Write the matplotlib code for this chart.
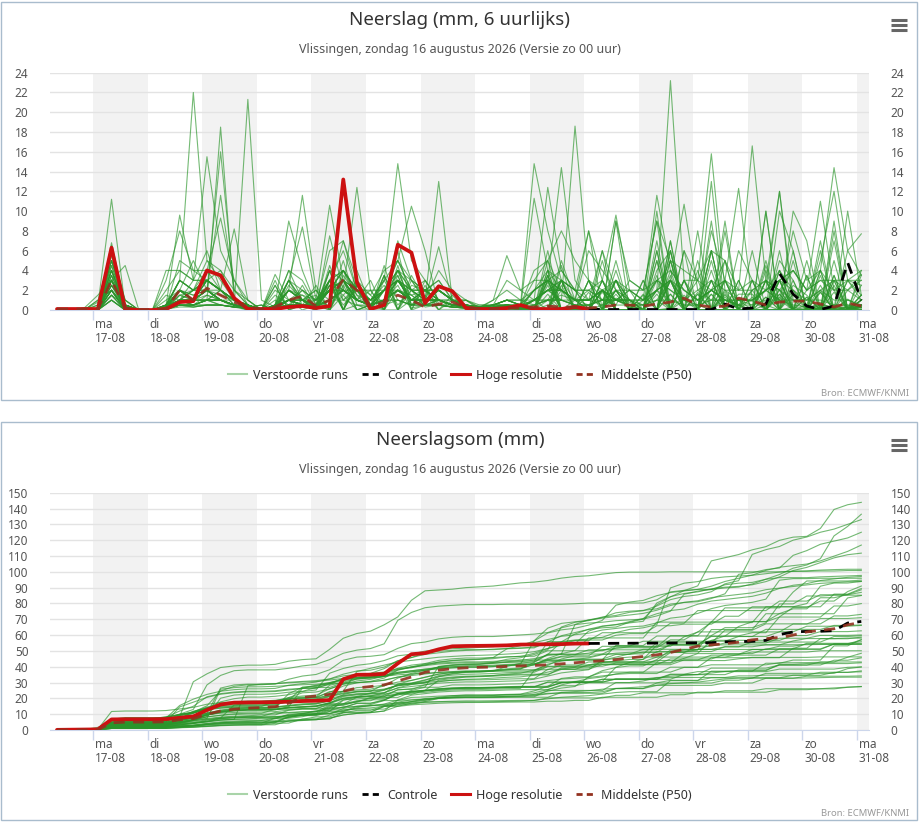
import numpy as np
import matplotlib
matplotlib.use("Agg")
import matplotlib.pyplot as plt
from matplotlib.lines import Line2D
from matplotlib.patches import Rectangle

plt.rcParams['font.family'] = ['Noto Sans', 'DejaVu Sans']

# ---------------- data ----------------
title_top = "Neerslag (mm, 6 uurlijks)"
title_bottom = "Neerslagsom (mm)"
subtitle = "Vlissingen, zondag 16 augustus 2026 (Versie zo 00 uur)"
source = "Bron: ECMWF/KNMI"
legend_labels = ["Verstoorde runs", "Controle", "Hoge resolutie", "Middelste (P50)"]

day_names = ["ma", "di", "wo", "do", "vr", "za", "zo", "ma", "di", "wo", "do", "vr", "za", "zo", "ma"]
day_dates = ["17-08", "18-08", "19-08", "20-08", "21-08", "22-08", "23-08", "24-08",
             "25-08", "26-08", "27-08", "28-08", "29-08", "30-08", "31-08"]

# time of each 6-hourly value, in days after ma 17-08 00:00 (first value 16-08 08:00)
n_steps = 60
step_days = 0.25
first_day = -16 / 24

# 6-hourly precipitation of the perturbed members (mm); "|" separates days
members_raw = [
    "0 0 0|0 4.5 0.5 0|0 0.5 3 22|5 4 1 0.5|0 0.5 2 1|0.5 6 7 3|1.5 4 5 10.5|6 0.5 0.5 1|0.5 0.5 1 1|0.5 1 1.5 1|0.5 1 1 0.3|0 0 0.2 0|0 0 0 0|0 0 0 0.3|0 0.2 0 0.3|0",
    "0 0 0|0 3 1 0|0 2 4 3|15.5 6 3 0.5|0 0 1 1.5|1 3 4 2|1 3 14.8 5|3 1 0.5 0.5|0 0 0.2 0|0 0 0 0.3|0.5 0 0 0|0 2 5 1|0.5 0 1 0.5|2 3 1 0|0 0.5 0.3 0.3|0.3",
    "0 0 0|1 2 0 0|0 0 1.5 2|3 2 1 0.5|0 0.2 1 0.5|0.5 2 4 1|0.5 1 3 2|1 4 2 1|0 0.5 3 2|1 12.4 4 2|2 1 0.5 3|2 9 5 4|3 15.8 2 2|3 2 4 2|0.5 5 12 3|1.5",
    "0 0 0|0 1.5 0.5 0|0 0.3 5 4|4 9.3 3 1|0 0.5 3 2|1 3 6 2|0.5 1 4 3|1 2 1 0.5|0 0 0.5 0.5|0.5 1 3 2|1 0.5 1 0.5|0.5 2 3 10.7|2 1 3 1|0.5 2 3 4|2 4 14.4 6|7.7",
    "0 0 0.2|1.5 3 0 0|0 0.2 2 5|2 1 0.5 0.3|0 0.3 2 1|0.3 2 3 1|0.5 2 5 3|2 1 0.5 0.3|0 0.5 1 0.5|14.8 8 3 1|1 2 1 2|1 3 4 2|1 2 5 2|16.6 3 2 4|2 3 2 3|3",
    "0 0 0|0 5 1 0|0 0.5 1 3|3 2 0.5 0|0 0.5 4 3|0.5 2 3 1|0.5 1 2 1.5|2 3 1 0.5|0.2 1 2 1|2 3 14.4 3|1 2 3 1|0.5 1 3 1|0.5 2 3 12.3|1 2 1 8|3 4 2 2|3.6",
    "0 0 0|0 2.5 0.5 0|0 0.5 3 2|5 3 1 0.5|0 0.5 2 1|0.5 4 3 2|1 2 4 2|1 2 1 0.5|0.3 1 5.5 2|3 5 2 1|2 3 9.6 2|1 3 2 1|1 2 3 2|2 3 2 1|1 2 3 3|4",
    "0 0 0|0.8 6 1 0|0 0 2 1|2 1 0.5 0|0 0.3 1 1|0.3 3 2 1|0.5 2 3 1|2 3 1 1|0.3 0.5 1 0.5|4 5 8 5|3 2 1 1|1 11.6 4 2|1 2 1 0.5|1 2 3 4|2 3 3 2|1",
    "0 0 0|0 4 0.5 0|0 3 8 4|3 2 1 0.5|0 0.3 2 1|1 2 3 2|0.5 2 4 2|3 1 0.5 0.5|0 0 0.5 0.3|1 2 1 1|1 1 3 2|1 2 23.2 3|1 2 1 0.5|0.5 1 1 0.5|0.3 0.5 0.3 0.2|0",
    "0 0 0|0 3 0 0|0 0 1 2|4 2 1 0.5|0 0.5 9 4|0.5 2 3 1|0.5 2 3 2|1 2 1 0.5|0 0.3 0.5 0.2|2 3 2 1|8 3 1 2|2 3 2 1|3 2 1 1|1 2 3 2|1 2 1 1|0.5",
    "0 0 0|0 5 0.5 0|0 0.3 3 2|3 4 2 1|0 0.5 1 2|1 10.6 3 2|1 2 3 1|2 1 0.5 0.3|0.5 0.5 1 0.5|1 2 2 1|1 2 1 1|0.5 2 3 1|2 3 2 1|1 2 12 1|0 0.2 0 0|0",
    "0 0 0|1 2 0.5 0|0 0.5 2 1.5|2 1.5 1 0.5|0 0.2 2 11.6|2 1 2 1|0.5 1 2 1|1 2 1 0.5|0.3 0.5 1 1|1 2 1 18.6|3 1 1 1|1 2 3 2|1 2 1 1|1 2 1 1|1 1 0.5 0.5|0.2",
    "0 0 0|0 1 0 0|0 0 1 0.5|1 1 0.5 0|0 0 0.5 0.5|0.5 1 2 1|0.5 1 3 2|1 2 1 0.5|0 0.3 0.5 0.2|1 2 3 2|2 1 2 1|0 6 0 6|0 8 3 0|2 0 10 6|0 4 0 6|3.5",
    "0 0 0|0 3.5 0.5 0|0 4 4 3|6 2 1 0.5|0 0.3 1 0.5|0.5 2 4 2|1 3 5 2|2 1 1 0.5|0.3 0.5 0.5 0.3|0 4 0 1|0 0 3 1|0 5 0 1|0 0 5 0|6 0 0 0|2 11 2 0|1",
    "0 0 0|0.5 11.2 0.3 0|0 0.3 1 1|2 1 0.5 0.5|0 0.5 1 0.5|0 4 0 2.5|0.5 1 2 1|2 2 1 0.5|0.3 0.5 0.5 0.5|3 3 2 1|1 2 1 1|0 0 7 0|0 9 0 0|0 0 5 3|0 7 0 2|3",
    "0 0 0|0 3 4.5 0|0 0.3 2 1|3 2 1 0.5|0 0.3 1 0.5|0.5 3 2 12.4|2 2 2 1|1 1 0.5 0.5|0.2 0.3 0.5 0.5|1 2 3 2|0 5 0 0|0 0 6 0|8 0 0 0|0 0 6 0|0 4 0 0|1.5",
    "0 0 0|0 2 0 0|0 0.2 1 1|1 2 0.5 0.3|0 0.2 1 1|2 0 2.5 0|0.5 1 1 0.5|1 2 1 0.5|0 0 0.3 0.2|2 3 2 1|0 0 9 3|2 9 0 0|0 6 5 0|0 3 12 0|5 0 0.5 0|0",
    "0 0 0|0 4 0.5 0|0 0.5 9.6 3|3 2 1 0.5|0 0.2 1 1|0 3 0 3|0.5 1 2 1|1 1 0.5 0.5|0 0.3 0.5 0.3|1 1 1 0.5|0 0 9 0|0 6 0 0|0 0 0 6|3 0 3 0|0 0 7 0|1.5",
    "0 0 0|0 5 0.5 0|0 0.3 2 1|2 1 0.5 0.3|0 0.3 1 0.5|0.3 2 3 1|0.5 1 3 1|1 13 1 0.5|0 0.5 0.5 0.3|0 5 0 0|0 0 4 0|0 0 5 0|5 0 0 0|0 0 0 5|0 3.5 0 0|0.5",
    "0 0 0|0.5 3 0.5 0|0 0.3 1 1|2 1 1 0.3|0 2.5 0 0.5|0 3 0 4|0.5 0 4.5 0|3 1 0.5 0.3|0 0.2 0.3 0.2|1 2 2 1|1 6 2 2|0 7 0 0|0 0 8 0|0 4 0 0|0 0 5 0|1",
    "0 0 0|0 6.5 0.5 0|0 1.5 1 2|3 2 1 0.5|0 0.3 1 1|0.5 3 4 2|1 2 5 2|2 1 1 0.5|0.3 0.5 1 0.5|0 3.5 0 0|0 0 3 0|3 0 0 0|0 0 0 3|0 4.5 0 0|0 0 2.5 0|0.3",
    "0 0 0|0 2 0 0|0 0.2 0.5 0.5|1 1 0.5 0.3|0 1.5 0.5 2|0.3 3 1 2.5|0 2 4 0.5|0.5 1 0.5 0.3|0 0.2 0.3 0.2|11.3 4 2 1|1 2 1 0.5|0 0 5 0|0 5 0 0|0 0 3 0|3.5 0 0 0|0.5",
    "0 0 0|0 4 0 0|0 0.3 2 1|2 2 1 0.5|0 0.2 1 0.5|0.5 2 3 1|0.5 2 3 1|1 2 1 0.5|0.3 0.5 0.5 0.3|1 2 2 1|1 2 1 1|0 5 0 0|0 0 3 0|3 0 0 0|0 0 3.5 0|0.5",
    "0 0 0.2|0 5.5 0.3 0|0 0.5 3 2|2 1 0.5 0.3|0 0.3 3 8.4|1 2 2 1|0.5 1 2 1|1 1 0.5 0.5|0.2 0.3 0.5 0.3|0 2.5 0 0.5|0 0 3 0|1.5 0 0 1.5|0 3 0 0|0 0 0 2.5|1.5 0 0 0.3|0",
    "0 0 0|0 2.5 0.5 0|0 0.2 1.5 1|1.5 1 0.5 0.3|0.5 0 3 1|0 2.5 0.5 2|0 3.5 0 3|2 0 1.5 0|0 0.2 0.3 0.2|1 1 1 0.5|0.5 1 1 0.5|0 0 4 0|0 6 0 0|0 0 0 6|0 6 0 0|1",
    "0 0 0|0 1 0 0|0 0 0.5 0.5|0.5 0.5 0.3 0|0 0 2.5 1|1.5 0 3 0|0 3.5 1 0.5|1.5 0 0 0|0 0.1 0.2 0.1|0.5 1 1 0.5|0.5 1 1 0.5|0 0 7 0|0 6 0 0|0 5 0 2|0 0 9 0|4",
    "0 0 0|0 3 0 0|0 0.3 2 1|1 18.5 1 0.5|0 0.3 0.5 0.5|0.3 1 2 1|0.5 1 2 1|1 1 0.5 0.5|0 0.2 0.3 0.2|0 2.8 0 0.2|0 0 1.2 0.8|0 0 3 0|1.8 0 0 0|0 0 2.1 0|1.3 0 0 0|0",
    "0 0 0|0 4 0.5 0|0 0.5 2 1.5|2 16 2 0.5|0 0.2 1 0.5|0.5 1 2 1|0.5 1 2 1|1 1 0.5 0.3|0 0.2 0.3 0.2|1 0 2 0|0 1.8 0 0|3 0 0 0|0 0 1.6 0|0 1.3 0 0|0 0.2 0 0|0",
    "0 0 0|0 3 0.3 0|0 0.2 1 2|2 11.6 2 0.5|0 0.3 1 0.5|2.5 0 3 0|0.5 1 2 1|1 1 0.5 0.5|0 0.2 0.3 0.2|0 0 3 0|0 2 0 0|0 3 0 0|0 0 0 1.6|1.6 0 0 0|0 0.8 0 0|0",
    "0 0 0|0 2 0 0|0 0.2 1 1|1 1 0.5 21.3|1 0.3 0.5 0.5|0.3 1 1 0.5|0.3 0.5 1 0.5|0.5 0.5 0.3 0.2|0 0.1 0.2 0.1|0 3 0 0|0 0 2 0|0 1.6 0 0|0 0 0 1.1|0.9 0 0 0|0 0.3 0 0|0",
    "0 0 0|0 3.5 0 0|0 0.3 1 1|1 1 0.5 0.3|0 2.5 0 0.5|0 4 0 2.5|1 0 4 0.5|1 1 0.5 0.3|0 0.2 0.3 0.2|0 0 3 0|0 2 0 0|0 0 0 3|0 4 0 0|0 0 2 0|0 0 3 0|1.5",
    "0 0 0|0 4.5 0.3 0|0 0.3 1.5 1|2 1 0.5 0.3|0 0.2 1 0.5|0 1 5 0.5|0.5 1 2 1|1 1 0.5 0.3|0 0.2 0.3 0.2|0 0 5 1|0 3 0 0|0 0 0 3|0 1.6 0 0|0 0 1.3 0|0.1 0.2 0.1 0.1|0",
    "0 0 0|0 1.5 0 0|0 0.1 0.5 0.5|1 0.5 0.3 0.2|0 0.5 3 1|0 2.5 0 2.5|1.5 0 2 1.5|0.5 0.5 0.3 0.2|0 0.1 0.2 0.1|0 4 0 0|0 0 5 0|1 2 1 0.5|0.5 1 1 0.5|0 0 4 0|0.5 0 0 0|0.5",
    "0 0 0|0 3 0.3 0|0 0.2 1 0.5|1.5 1 0.5 0.3|0 0.2 0.5 0.5|0.3 2 7 2|1 1 1 0.5|0.5 1 0.5 0.3|0 0.2 0.3 0.2|0 3 0 0|0 0 2 0|0 0 3 0|1.6 0 0 0|0 0 1.6 0|0 0 0 1.1|0.3",
    "0 0 0|0 2 0 0|0 0.1 0.5 0.5|1 0.5 0.3 0.2|0 0.1 0.5 0.5|0.3 1 2 1|0.5 1 7 3|1 1 0.5 0.3|0 0.2 0.3 0.2|0 0 2.5 0|1.8 0 0 0|0 0 1.6 0|0 1.6 0 0|0 0 0 1.6|0 0 1.8 0|1",
    "0 0 0|0 1 0 0|0 0.1 0.5 0.3|0.5 0.5 0.3 0.2|0 2 1 0|0.5 0 4 1.5|0 3 0.5 2|2 0.5 0.3 0.2|0 0.1 0.2 0.1|0.5 1 1 0.5|0.5 1 0.5 0.5|0.5 1 1 0.5|0.5 1 1 0.5|0 3 0 0|0 0 0 3|1",
    "0 0 0|0 2.5 0.3 0|0 0.2 1 0.5|1 1 0.3 0.2|0.5 0 2 1|0 4.5 1 2|2 0 3 1.5|0.5 1 0.5 0.3|0 0.1 0.2 0.1|0 3 0 0|0 0 2 0|0 1 0 0|0 0 0 1|0 0.5 0 0|0 1.8 0 0|0.3",
    "0 0 0|0 1.5 0 0|0 0.1 0.5 0.5|0.5 0.5 0.3 0.2|0 0.5 4 1|0.5 0 3.5 1.5|1 2.5 0 2|0.3 0.5 0.3 0.2|0 0.1 0.1 0.1|0 1 0 0|0 0 3 0|0 2 0 0|0 0 1.5 0|0 3 0 0|1.3 0 0 0|0.2",
    "0 0 0|0 2 0 0|0 0.1 0.5 0.3|0.5 0.5 0.3 0.2|0 3 0 1|2 0 1.5 3|0.5 1 2.5 0|0.5 0.5 0.3 0.2|0 0.1 0.1 0.1|0 0 3 0|0 0.5 2 0|0 3.5 0 0|0 0 1.8 0|1.3 0 0 0|0.1 0.2 0.2 0.1|0",
    "0 0 0|0 1 0 0|0 0.1 0.3 0.3|0.5 0.5 0.3 0.2|0 1 0.2 2.5|0 2.5 1.5 0|0.5 3.5 0 1|0.5 0.5 0.3 0.2|0 0.1 0.1 0.1|0 0.5 0 0.5|0 2 0 0|0 0 1.6 0|1.6 0 0 0|0 0 1.6 0|0 0.5 0 1|0.5",
    "0 0 0|0 1.5 0 0|0 0.1 0.5 0.5|1 1 0.5 0.3|0.5 0 2 1.5|0.3 3 0 0.5|0 0 3.5 0.2|0.5 0.5 0.3 0.2|0 0.1 0.1 0.1|0 1.6 0 0|0 0 1.6 0|1.6 0 0 0|0 0 1.3 0|0 1.3 0 0|0 0 0.5 0.5|0.3",
    "0 0 0|0 3 0.3 0|0 0.2 2 1|3 2 1 0.5|0 0.2 1 0.5|0.5 2 3 1|2 0 6 0.5|2 2 1 0.5|0.2 0.3 0.5 0.3|0 3.5 0 0|3 0 0 0|0 0 6 0|4 0 2 0|0 0 3 0|0 1.8 0 0|0.3",
    "0 0 0|0 2 0.3 0|0 0.3 1 1|1 2 8.2 1|0 0.2 1 0.5|0.5 2 2 1|0.5 1 3 1|1 2 1 0.5|0.2 0.3 0.5 0.3|0 0 3 0|3 0 0 0|0 0 0 3|0 3 0 0|0 0 4 0|3.5 0 0 0|1",
    "0 0 0.2|0 6.8 0.5 0|0 0.5 2 1|2 1 0.5 0.3|0 3.6 1 0.5|0.5 1 2 1|0.5 1 2 1|1 1 0.5 0.3|0 0.2 0.3 0.2|0 6 0 0|0 3 0 0|0 0 3.5 0|0 0 3 0|3 0 0 0|0 0 3.5 0|2.5",
    "0 0 0|0 2.5 0 0|0 0.2 1 0.5|1 1 0.5 0.3|0 0 3 0.5|1 2.5 0 3|0 2 3.5 0|2.5 0 1 0.3|0 0.2 0.3 0.2|0 0 3 0|0 2 0 0|0 0 3 0|0 0 0 3|0 0 3 0|0 2 0 3|2.5",
    "0 0 0|0 3 0.3 0|0 1 2 1|3 2 1 0.5|0 0.3 1 1|0.5 2 3 1|0.5 2 3 1|1 2 1 0.5|0.3 0.5 1 0.5|2 3 4 2|0 6 0 0|0 0 0 6|3 6 0 0|0 10 0 0|0 0 8 0|3.5",
    "0 0 0|0 4 0.3 0|0 0.3 2 1|3 2 1 0.5|0 0.3 1 0.5|0.5 2 4 2|0 4.5 0 2.5|2 2 1 0.5|0.3 0.5 1 0.5|2 4 3 2|8 0 0 0|0 10 0 0|0 0 9 0|0 0 0 10|7 0 0 0|0.5",
    "0 0 0|0 2 0 0|0 0.2 1 1|2 1 0.5 0.3|0 0.2 0.5 0.5|0.3 1 2 1|0.5 1 2 1|1 1 0.5 0.3|0 0.2 0.3 0.2|1 2 2 1|6 4 2 1|0 4 6 0|0 13 0 0|0 10 0 0|0 0 0 10|1.5",
    "0 0 0|0 5 0.5 0|0 0.5 3 2|3 2 1 0.5|0 0.3 2 1|0 7.5 2 2|1 2 3 1|2 1 0.5 0.3|0 0.3 0.5 0.3|0 3.5 0 0|3 0 0 0|0 0 3 0|0 3 0 0|0 0 0 3|0 2.5 0 0|0.5",
    "0 0 0|0 3.5 0.5 0|0 0.3 1 1|2 1 0.5 0.3|0 0.2 0.5 0.5|0.3 2 3 1|3 0 0 3.5|1 6.4 1 1|0.2 0.3 0.5 0.3|0 0 4.5 0|0 3 0 0|0 0 0 3|3 0 0 0|0 3 0 0|0 0 3 0|0.5",
]

# high resolution run, 6-hourly (first 40 steps)
hres = [0.1, 0.1, 0.1, 0.1, 6.3, 0.1, 0.0, 0.0, 0.1, 0.8,
        0.9, 4.0, 3.5, 1.2, 0.1, 0.1, 0.1, 0.3, 0.4, 0.2,
        0.4, 13.2, 2.8, 0.1, 0.5, 6.6, 5.8, 0.7, 2.4, 1.9,
        0.2, 0.1, 0.1, 0.2, 0.5, 0.1, 0.1, 0.1, 0.3, 0.1]
# control run, 6-hourly, from step 39 to the end
control_start = 39
control = [0.1, 0.05, 0.05, 0.05, 0.05, 0.05, 0.05, 0.05, 0.05, 0.05,
           0.6, 0.1, 0.2, 0.6, 3.7, 1.6, 0.4, 0.05, 0.4, 4.8, 1.0]
# median (P50), 6-hourly
p50 = [0.1, 0.1, 0.1, 0.1, 3.0, 0.2, 0.05, 0.05, 0.1, 2.0,
       1.0, 2.2, 1.5, 0.8, 0.3, 0.1, 0.3, 1.0, 1.4, 0.4,
       1.0, 3.1, 2.0, 0.3, 0.8, 1.5, 1.0, 0.3, 0.6, 0.8,
       0.3, 0.1, 0.1, 0.2, 0.2, 0.3, 0.4, 0.3, 0.3, 0.2,
       0.3, 0.5, 0.5, 0.4, 0.6, 0.8, 1.2, 0.5, 0.3, 0.4,
       1.2, 0.9, 0.5, 0.8, 0.9, 0.9, 0.6, 0.3, 0.7, 0.4]
# median (P50) of the accumulated sum
p50_sum = [0, 0, 0, 0.1, 4.5, 5.0, 5.0, 5.0, 5.2, 6.5,
           7.2, 10.0, 12.0, 13.2, 13.8, 14.2, 14.7, 17.0, 20.5, 21.5,
           22.5, 24.5, 26.5, 27.5, 28.5, 31.0, 33.5, 36.5, 37.8, 38.8,
           39.3, 39.6, 39.8, 40.2, 40.5, 40.8, 41.2, 41.8, 42.5, 43.2,
           43.8, 44.5, 45.5, 46.5, 47.5, 49.0, 51.0, 53.0, 53.8, 54.5,
           55.5, 57.0, 57.8, 58.5, 60.0, 62.0, 63.0, 64.0, 66.5, 68.0]

# ---------------- derived series ----------------
t = first_day + step_days * np.arange(n_steps)
members = []
for k, s in enumerate(members_raw):
    vals = [float(v) for v in s.replace("|", " ").split()]
    if len(vals) != n_steps:
        raise ValueError(f"member {k} has {len(vals)} values")
    members.append(np.array(vals))
members_sum = [np.cumsum(m) for m in members]
hres_arr = np.array(hres)
hres_sum = np.cumsum(hres_arr)
ctrl_arr = np.array(control)
ctrl_sum = hres_sum[-1] + np.concatenate([[0], np.cumsum(ctrl_arr[1:])])
t_hres = t[:len(hres)]
t_ctrl = t[control_start:control_start + len(control)]

# ---------------- figure ----------------
W, H = 920, 822
fig = plt.figure(figsize=(W / 100, H / 100), dpi=100)
fig.patch.set_facecolor("white")

def fy(y):
    return 1 - y / H

GREEN = "#2a952a"
RED = "#cc1111"
P50C = "#93311f"

def panel(top, ymax, ystep, series_members, s_hres, s_ctrl, s_p50, title):
    fig.patches.append(Rectangle((1 / W, fy(top + 398)), 916 / W, 398 / H,
                                 transform=fig.transFigure, fill=False,
                                 edgecolor="#a9bccd", lw=1.0, zorder=0))
    fig.text(0.5, fy(top + 18), title, ha="center", va="center",
             fontsize=13.5, color="#333333")
    fig.text(0.5, fy(top + 47), subtitle, ha="center", va="center",
             fontsize=9, color="#555555")
    for dy in (-5, 0, 5):
        fig.add_artist(Line2D([891 / W, 907 / W], [fy(top + 23 + dy)] * 2,
                              transform=fig.transFigure, color="#666666",
                              lw=2.2, solid_capstyle="butt"))
    fig.text(909 / W, fy(top + 391), source, ha="right", va="center",
             fontsize=6.8, color="#999999")

    ax = fig.add_axes([50 / W, fy(top + 308), 819.3 / W, 237.3 / H])
    ax.set_xlim(-0.795, 14.23)
    ax.set_ylim(0, ymax)
    for d in range(0, 15, 2):
        ax.axvspan(d, d + 1, color="#f2f2f2", lw=0, zorder=0)
    ax.set_yticks(np.arange(0, ymax + 0.1, ystep))
    ax.yaxis.grid(True, color="#e3e3e3", lw=1, zorder=1)
    ax.set_axisbelow(True)
    for sp in ("top", "left", "right"):
        ax.spines[sp].set_visible(False)
    ax.spines["bottom"].set_color("#ccd6eb")
    ax.tick_params(axis="y", left=False, right=False, labelleft=True,
                   labelright=True, labelsize=8.5, labelcolor="#555555", pad=12)
    ax.set_xticks(np.arange(0, 15))
    ax.set_xticklabels([])
    ax.tick_params(axis="x", length=7.5, color="#ccd6eb", width=1)
    trans = ax.get_xaxis_transform()
    for d in range(15):
        ax.text(d + 0.035, -0.063, day_names[d], transform=trans,
                ha="left", va="center", fontsize=8.5, color="#555555", clip_on=False)
        ax.text(d + 0.035, -0.122, day_dates[d], transform=trans,
                ha="left", va="center", fontsize=8.5, color="#555555", clip_on=False)

    for m in series_members:
        ax.plot(t, m, color=GREEN, lw=0.8, alpha=0.65, zorder=2,
                solid_joinstyle="round")
    ax.plot(t_hres, s_hres, color=RED, lw=2.7, zorder=4,
            solid_joinstyle="round", solid_capstyle="round")
    ax.plot(t_ctrl, s_ctrl, color="black", lw=2.0, ls=(0, (4, 3)), zorder=5)
    ax.plot(t, s_p50, color=P50C, lw=2.0, ls=(0, (4, 3)), alpha=0.9, zorder=6)

    handles = [Line2D([], [], color="#a9d4a9", lw=1.5),
               Line2D([], [], color="black", lw=2, ls=(0, (2.2, 1.5))),
               Line2D([], [], color=RED, lw=2.2),
               Line2D([], [], color=P50C, lw=2, ls=(0, (2.2, 1.5)))]
    fig.legend(handles, legend_labels, loc="center",
               bbox_to_anchor=(460 / W, fy(top + 373)), ncol=4, frameon=False,
               fontsize=9, handlelength=1.5, handletextpad=0.5,
               columnspacing=1.1, labelcolor="#333333")
    return ax

panel(2, 24, 2, members, hres_arr, ctrl_arr, np.array(p50), title_top)
panel(422, 150, 10, members_sum, hres_sum, ctrl_sum, np.array(p50_sum), title_bottom)

fig.savefig("out.png", dpi=100, facecolor="white")
